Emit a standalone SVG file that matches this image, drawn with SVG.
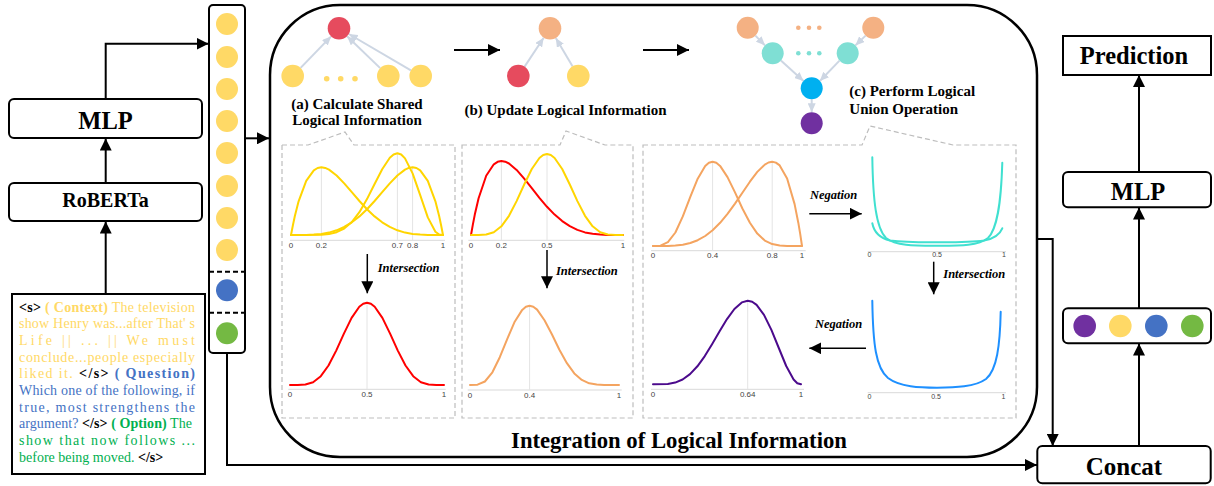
<svg xmlns="http://www.w3.org/2000/svg" width="1214" height="486" viewBox="0 0 1214 486">
<style>
.box{fill:#fff;stroke:#000;stroke-width:2}
.lbl{font-family:"Liberation Serif","Times New Roman",serif;font-weight:bold;fill:#000}
.conn{fill:none;stroke:#000;stroke-width:2}
.thin{fill:none;stroke:#000;stroke-width:1.5}
.g{fill:none;stroke:#CDD6E3;stroke-width:2}
.panel{fill:none;stroke:#BDBDBD;stroke-width:1.2;stroke-dasharray:5 3}
.axis{stroke:#D9D9D9;stroke-width:1}
.grid{stroke:#E4E4E4;stroke-width:1}
.tick{font-family:"Liberation Sans",Arial,sans-serif;font-size:8px;fill:#444;text-anchor:middle}
.tk7{font-size:7px}
.curve{fill:none;stroke-width:2;stroke-linejoin:round;stroke-linecap:round}
.op{font-family:"Liberation Serif","Times New Roman",serif;font-weight:bold;font-style:italic;font-size:12.5px;fill:#000}
.tb{font-family:"Liberation Serif","Times New Roman",serif;font-size:14px}
.bk{fill:#000;font-weight:bold}
.y{fill:#FFD966}
.b{fill:#4472C4}
.gr{fill:#00B050}
.bo{font-weight:bold}
.cy{fill:#FFD966}.cb{fill:#4472C4}.cg{fill:#74B943}.cp{fill:#7030A0}
.nr{fill:#E64B5E}.npe{fill:#F4B183}.nt{fill:#7FDFD4}.nbl{fill:#00B0F0}
</style>
<defs>
<marker id="ah" markerUnits="userSpaceOnUse" markerWidth="12" markerHeight="12" refX="12" refY="6" orient="auto"><path d="M0,0 L12,6 L0,12 z" fill="#000"/></marker>
<marker id="ag" markerUnits="userSpaceOnUse" markerWidth="9" markerHeight="8" refX="9" refY="4" orient="auto"><path d="M0,0 L9,4 L0,8 z" fill="#CDD6E3"/></marker>
</defs>

<!-- connectors -->
<g id="connectors">
  <line class="conn" x1="105.7" y1="294" x2="105.7" y2="221.5" marker-end="url(#ah)"/>
  <line class="conn" x1="105.7" y1="183" x2="105.7" y2="138.5" marker-end="url(#ah)"/>
  <polyline class="conn" points="105.7,99 105.7,43.7 208.5,43.7" marker-end="url(#ah)"/>
  <line class="conn" x1="245" y1="138.3" x2="269" y2="138.3" marker-end="url(#ah)"/>
  <polyline class="conn" points="227,353 227,465 1037,465" marker-end="url(#ah)"/>
  <polyline class="conn" points="1037,239 1052.7,239 1052.7,446" marker-end="url(#ah)"/>
  <line class="conn" x1="1139" y1="446" x2="1139" y2="343.5" marker-end="url(#ah)"/>
  <line class="conn" x1="1139" y1="308.3" x2="1139" y2="207.5" marker-end="url(#ah)"/>
  <line class="conn" x1="1139" y1="172" x2="1139" y2="75" marker-end="url(#ah)"/>
  <!-- stage arrows -->
  <line class="conn" x1="454" y1="50" x2="500" y2="50" marker-end="url(#ah)"/>
  <line class="conn" x1="643" y1="50" x2="689" y2="50" marker-end="url(#ah)"/>
  <!-- graph edges -->
  <line class="g" x1="300.6" y1="67.9" x2="331.1" y2="36.4" marker-end="url(#ag)"/>
  <line class="g" x1="380.2" y1="68.1" x2="347.1" y2="36.2" marker-end="url(#ag)"/>
  <line class="g" x1="410.9" y1="70.3" x2="348.8" y2="34" marker-end="url(#ag)"/>
  <line class="g" x1="524.6" y1="66.6" x2="543.7" y2="37.7" marker-end="url(#ag)"/>
  <line class="g" x1="572.5" y1="66.3" x2="555.8" y2="38" marker-end="url(#ag)"/>
  <line class="g" x1="755.4" y1="35.6" x2="765" y2="45.4" marker-end="url(#ag)"/>
  <line class="g" x1="865.6" y1="35.6" x2="855.4" y2="45.4" marker-end="url(#ag)"/>
  <line class="g" x1="780.9" y1="60.6" x2="803.5" y2="81" marker-end="url(#ag)"/>
  <line class="g" x1="839.5" y1="60.6" x2="819.9" y2="81" marker-end="url(#ag)"/>
  <line class="g" x1="811.7" y1="99.3" x2="811.7" y2="112.3" marker-end="url(#ag)"/>
  <!-- operation arrows -->
  <line class="thin" x1="367.3" y1="254" x2="367.3" y2="293.3" marker-end="url(#ah)"/>
  <line class="thin" x1="547" y1="250" x2="547" y2="288.3" marker-end="url(#ah)"/>
  <line class="thin" x1="809.3" y1="213.7" x2="861.7" y2="213.7" marker-end="url(#ah)"/>
  <line class="thin" x1="933.7" y1="261.7" x2="933.7" y2="294.3" marker-end="url(#ah)"/>
  <line class="thin" x1="866" y1="348.3" x2="809.3" y2="348.3" marker-end="url(#ah)"/>
</g>

<!-- left input text -->
<g id="input-text">
  <rect x="12" y="294" width="193" height="180" fill="#fff" stroke="#000" stroke-width="2"/>
  <text class="tb" x="19" y="311.5" textLength="176" lengthAdjust="spacing"><tspan class="bk">&lt;s&gt;</tspan><tspan class="y bo"> ( Context)</tspan><tspan class="y"> The television</tspan></text>
  <text class="tb y" x="19" y="328.2" textLength="176" lengthAdjust="spacing">show Henry was...after That' s</text>
  <text class="tb y" x="19" y="344.9" textLength="176" lengthAdjust="spacing">Life || ... || We must</text>
  <text class="tb y" x="19" y="361.6" textLength="176" lengthAdjust="spacing">conclude...people especially</text>
  <text class="tb" x="19" y="378.3" textLength="176" lengthAdjust="spacing"><tspan class="y">liked it. </tspan><tspan class="bk">&lt;/s&gt;</tspan><tspan class="b bo"> ( Question)</tspan></text>
  <text class="tb b" x="19" y="395" textLength="176" lengthAdjust="spacing">Which one of the following, if</text>
  <text class="tb b" x="19" y="411.7" textLength="176" lengthAdjust="spacing">true, most strengthens the</text>
  <text class="tb" x="19" y="428.4" textLength="173" lengthAdjust="spacing"><tspan class="b">argument? </tspan><tspan class="bk">&lt;/s&gt;</tspan><tspan class="gr bo"> ( Option)</tspan><tspan class="gr"> The</tspan></text>
  <text class="tb gr" x="19" y="445.1" textLength="176" lengthAdjust="spacing">show that now follows ...</text>
  <text class="tb" x="19" y="461.8"><tspan class="gr">before being moved. </tspan><tspan class="bk">&lt;/s&gt;</tspan></text>
</g>

<g id="roberta">
  <rect class="box" x="9" y="183" width="193" height="38" rx="5"/>
  <text class="lbl" x="105.5" y="207" font-size="20" text-anchor="middle">RoBERTa</text>
</g>
<g id="mlp-left">
  <rect class="box" x="9" y="99" width="193" height="39" rx="5"/>
  <text class="lbl" x="105.5" y="129" font-size="24.5" text-anchor="middle">MLP</text>
</g>

<g id="vector-column">
  <rect class="box" x="209" y="5" width="36" height="348" rx="4"/>
  <circle class="cy" cx="227" cy="24" r="11"/>
  <circle class="cy" cx="227" cy="57" r="11"/>
  <circle class="cy" cx="227" cy="89" r="11"/>
  <circle class="cy" cx="227" cy="121" r="11"/>
  <circle class="cy" cx="227" cy="153" r="11"/>
  <circle class="cy" cx="227" cy="186" r="11"/>
  <circle class="cy" cx="227" cy="218" r="11"/>
  <circle class="cy" cx="227" cy="250" r="11"/>
  <line x1="209" y1="271.7" x2="245" y2="271.7" stroke="#000" stroke-width="2" stroke-dasharray="5 3"/>
  <circle class="cb" cx="227" cy="290.3" r="11"/>
  <line x1="209" y1="312.7" x2="245" y2="312.7" stroke="#000" stroke-width="2" stroke-dasharray="5 3"/>
  <circle class="cg" cx="227" cy="333.3" r="11"/>
</g>

<g id="integration">
  <rect x="270" y="5" width="767" height="452" rx="70" fill="none" stroke="#000" stroke-width="2.5"/>
  <text class="lbl" x="679" y="447.5" font-size="22.7" text-anchor="middle">Integration of Logical Information</text>
</g>

<g id="stage-a">
  <circle class="nr" cx="339" cy="28.3" r="11.3"/>
  <circle class="cy" cx="292.7" cy="76" r="11.3"/>
  <circle class="cy" cx="388.3" cy="76" r="11.3"/>
  <circle class="cy" cx="420.7" cy="76" r="11.3"/>
  <circle class="cy" cx="326.7" cy="78.7" r="2.8"/>
  <circle class="cy" cx="340.7" cy="78.7" r="2.8"/>
  <circle class="cy" cx="355" cy="78.7" r="2.8"/>
  <text class="lbl" x="357" y="109" font-size="15" text-anchor="middle">(a) Calculate Shared</text>
  <text class="lbl" x="357" y="125" font-size="15" text-anchor="middle">Logical Information</text>
</g>
<g id="stage-b">
  <circle class="npe" cx="550" cy="28.3" r="11.3"/>
  <circle class="nr" cx="518.3" cy="76" r="11.3"/>
  <circle class="cy" cx="578.3" cy="76" r="11.3"/>
  <text class="lbl" x="565.5" y="115" font-size="15" text-anchor="middle">(b) Update Logical Information</text>
</g>
<g id="stage-c">
  <circle class="npe" cx="747.7" cy="27.7" r="11"/>
  <circle class="npe" cx="873.3" cy="27.7" r="11"/>
  <circle class="npe" cx="798.3" cy="27.7" r="2.3"/>
  <circle class="npe" cx="809" cy="27.7" r="2.3"/>
  <circle class="npe" cx="819.3" cy="27.7" r="2.3"/>
  <circle class="nt" cx="772.7" cy="53.3" r="11"/>
  <circle class="nt" cx="847.7" cy="53.3" r="11"/>
  <circle class="nt" cx="798.3" cy="53.3" r="2.3"/>
  <circle class="nt" cx="809" cy="53.3" r="2.3"/>
  <circle class="nt" cx="819.3" cy="53.3" r="2.3"/>
  <circle class="nbl" cx="811.7" cy="88.3" r="11"/>
  <circle class="cp" cx="811.7" cy="123.3" r="11"/>
  <text class="lbl" x="849.3" y="96" font-size="15">(c) Perform Logical</text>
  <text class="lbl" x="849.3" y="114.3" font-size="15">Union Operation</text>
</g>

<!-- panel 1 -->
<g id="panel-a">
  <path class="panel" d="M282,145 L308,145 L345,132 L354,145 L455,145 L455,418 L282,418 Z"/>
  <line class="axis" x1="290" y1="240.3" x2="445" y2="240.3"/>
  <line class="grid" x1="321.4" y1="167.3" x2="321.4" y2="240"/>
  <line class="grid" x1="397.4" y1="153.3" x2="397.4" y2="240"/>
  <line class="grid" x1="412.6" y1="167.3" x2="412.6" y2="240"/>
  <path class="curve" stroke="#FFD500" d="M291,235 L292.9,225.2 L294.8,216.3 L298.6,201.3 L306.2,180.8 L313.8,170.3 L317.6,168 L321.4,167.3 L325.2,167.9 L329,169.6 L336.6,175.5 L344.2,183.4 L351.8,192.2 L359.4,201 L367,209.2 L374.6,216.4 L382.2,222.3 L389.8,226.9 L397.4,230.3 L405,232.6 L412.6,233.9 L420.2,234.6 L427.8,234.9 L443,235"/>
  <path class="curve" stroke="#FFD500" d="M291,235 L321.4,234.8 L329,234.1 L336.6,232.2 L344.2,228.5 L351.8,222 L359.4,212.2 L367,199.1 L374.6,184 L382.2,169.2 L389.8,157.8 L393.6,154.5 L397.4,153.3 L401.2,154.5 L405,158.4 L412.6,173.4 L420.2,195.2 L427.8,217.4 L435.4,231.8 L439.2,234.5 L443,235"/>
  <path class="curve" stroke="#FFD500" d="M291,235 L306.2,234.9 L313.8,234.6 L321.4,233.9 L329,232.6 L336.6,230.3 L344.2,226.9 L351.8,222.3 L359.4,216.4 L367,209.2 L374.6,201 L382.2,192.2 L389.8,183.4 L397.4,175.5 L405,169.6 L408.8,167.9 L412.6,167.3 L416.4,168 L420.2,170.3 L427.8,180.8 L435.4,201.3 L439.2,216.3 L441.1,225.2 L443,235"/>
  <text class="tick" x="291" y="247.5">0</text>
  <text class="tick" x="321.4" y="247.5">0.2</text>
  <text class="tick" x="397.4" y="247.5">0.7</text>
  <text class="tick" x="412.6" y="247.5">0.8</text>
  <text class="tick" x="443" y="247.5">1</text>
  <text class="op" x="377.7" y="271.7">Intersection</text>
  <line class="axis" x1="288.3" y1="389.3" x2="445.7" y2="389.3"/>
  <line class="grid" x1="367" y1="302.7" x2="367" y2="389"/>
  <path class="curve" stroke="#FF0000" d="M290,385 L297.7,385 L305.4,384.5 L313.1,382.2 L320.8,376.2 L328.5,365.5 L336.2,350.6 L343.9,333.6 L351.6,317.9 L359.3,306.7 L363.2,303.7 L367,302.7 L370.9,303.7 L374.7,306.7 L382.4,317.9 L390.1,333.6 L397.8,350.6 L405.5,365.5 L413.2,376.2 L420.9,382.2 L428.6,384.5 L436.3,385 L444,385"/>
  <text class="tick" x="290" y="397">0</text>
  <text class="tick" x="367" y="397">0.5</text>
  <text class="tick" x="444" y="397">1</text>
</g>

<!-- panel 2 -->
<g id="panel-b">
  <path class="panel" d="M462,145 L560,145 L566,131 L605,145 L633,145 L633,418 L462,418 Z"/>
  <line class="axis" x1="468.3" y1="240.3" x2="624.3" y2="240.3"/>
  <line class="grid" x1="501.4" y1="161" x2="501.4" y2="240"/>
  <line class="grid" x1="547" y1="154" x2="547" y2="240"/>
  <path class="curve" stroke="#FF0000" d="M471,235 L472.9,224.3 L474.8,214.6 L478.6,198.2 L486.2,175.7 L493.8,164.3 L497.6,161.8 L501.4,161 L505.2,161.7 L509,163.5 L516.6,169.9 L524.2,178.6 L531.8,188.2 L539.4,197.8 L547,206.8 L554.6,214.6 L562.2,221.1 L569.8,226.2 L577.4,229.9 L585,232.4 L592.6,233.8 L600.2,234.6 L607.8,234.9 L623,235"/>
  <path class="curve" stroke="#FFD500" d="M471,235 L478.6,235 L486.2,234.5 L493.8,232.2 L501.4,226.3 L509,215.8 L516.6,201.1 L524.2,184.5 L531.8,169 L539.4,158 L543.2,155 L547,154 L550.8,155 L554.6,158 L562.2,169 L569.8,184.5 L577.4,201.1 L585,215.8 L592.6,226.3 L600.2,232.2 L607.8,234.5 L615.4,235 L623,235"/>
  <text class="tick" x="471" y="247.5">0</text>
  <text class="tick" x="501.4" y="247.5">0.2</text>
  <text class="tick" x="547" y="247.5">0.5</text>
  <text class="tick" x="623" y="247.5">1</text>
  <text class="op" x="556" y="275">Intersection</text>
  <line class="axis" x1="467.7" y1="390" x2="621.7" y2="390"/>
  <line class="grid" x1="529.6" y1="305.7" x2="529.6" y2="390"/>
  <path class="curve" stroke="#F4A460" d="M470,385 L477.5,384.7 L484.9,381.5 L492.4,372.3 L499.8,357.2 L507.3,338.8 L514.7,321.7 L522.2,309.9 L525.9,306.7 L529.6,305.7 L533.3,306.7 L537.1,309.6 L544.5,320.2 L552,334.5 L559.4,349.8 L566.9,363.2 L574.3,373.4 L581.8,379.9 L589.2,383.3 L596.7,384.6 L604.1,385 L619,385"/>
  <text class="tick" x="470" y="397.5">0</text>
  <text class="tick" x="529.6" y="397.5">0.4</text>
  <text class="tick" x="619" y="397.5">1</text>
</g>

<!-- panel 3 -->
<g id="panel-c">
  <path class="panel" d="M643,145 L862,145 L870,126 L953,145 L1016,145 L1016,418 L643,418 Z"/>
  <line class="axis" x1="651" y1="250.7" x2="805.7" y2="250.7"/>
  <line class="grid" x1="712.6" y1="161.7" x2="712.6" y2="250.5"/>
  <line class="grid" x1="772.2" y1="161.7" x2="772.2" y2="250.5"/>
  <path class="curve" stroke="#F4A460" d="M653,246 L660.5,245.7 L667.9,242.2 L675.4,232.5 L682.8,216.4 L690.3,196.9 L697.7,178.7 L705.2,166.1 L708.9,162.8 L712.6,161.7 L716.3,162.8 L720.1,165.9 L727.5,177.1 L735,192.4 L742.4,208.5 L749.9,222.8 L757.3,233.6 L764.8,240.6 L772.2,244.1 L779.7,245.6 L787.1,246 L802,246"/>
  <path class="curve" stroke="#F4A460" d="M653,246 L667.9,245.9 L675.4,245.6 L682.8,244.7 L690.3,243 L697.7,240.2 L705.2,236 L712.6,230.2 L720.1,222.8 L727.5,213.8 L735,203.6 L742.4,192.7 L749.9,181.7 L757.3,171.9 L764.8,164.6 L768.5,162.5 L772.2,161.7 L775.9,162.6 L779.7,165.4 L787.1,178.5 L794.6,204.1 L798.3,222.7 L800.2,233.8 L802,246"/>
  <text class="tick" x="653" y="257.5">0</text>
  <text class="tick" x="712.6" y="257.5">0.4</text>
  <text class="tick" x="772.2" y="257.5">0.8</text>
  <text class="tick" x="802" y="257.5">1</text>
  <text class="op" x="810" y="199">Negation</text>
  <line class="axis" x1="867.7" y1="251.7" x2="1006" y2="251.7"/>
  <path class="curve" stroke="#40E0D0" d="M872.3,157.3 C873,200 876,228 886,238 C896,246 915,245.7 937,245.7 C960,245.7 978,246 988,238 C997,229 1001,205 1002.3,162.7"/>
  <path class="curve" stroke="#40E0D0" d="M872.3,223.3 C874,232 879,238 890,240.5 C905,242.5 920,242.3 937,242.3 C955,242.3 970,242.5 984,240.5 C995,238.5 1000,234 1002.3,228.3"/>
  <text class="tick tk7" x="869.5" y="257">0</text>
  <text class="tick tk7" x="937" y="257">0.5</text>
  <text class="tick tk7" x="1004" y="257">1</text>
  <text class="op" x="943.3" y="278.3">Intersection</text>
  <line class="axis" x1="867.7" y1="392.7" x2="1006" y2="392.7"/>
  <path class="curve" stroke="#1E90FF" d="M872.3,300.7 C873,345 876,368 888,378 C900,387 920,387.7 937,387.7 C955,387.7 975,387 986,379 C997,370 1000,345 1000.7,311.7"/>
  <text class="tick tk7" x="869.5" y="398.5">0</text>
  <text class="tick tk7" x="936" y="398.5">0.5</text>
  <text class="tick tk7" x="1003.5" y="398.5">1</text>
  <text class="op" x="815" y="328.3">Negation</text>
  <line class="axis" x1="651" y1="389.3" x2="804" y2="389.3"/>
  <line class="grid" x1="747.7" y1="300.7" x2="747.7" y2="389"/>
  <path class="curve" stroke="#4B0A8C" d="M653,384.3 L667.8,383.9 L675.2,382.6 L682.6,379.5 L690,374.1 L697.4,366.3 L704.8,356.1 L712.2,344 L719.6,331.3 L727,319.1 L734.4,309 L741.8,302.4 L747.7,300.7 L752.2,301.7 L756.6,304.9 L764,314.9 L771.4,329.9 L778.8,348 L786.2,366 L793.6,379.5 L797.3,383.2 L801,384.3"/>
  <text class="tick" x="653" y="396.5">0</text>
  <text class="tick" x="747.7" y="396.5">0.64</text>
  <text class="tick" x="801" y="396.5">1</text>
</g>

<!-- right column -->
<g id="prediction">
  <rect class="box" x="1063" y="36" width="148" height="39"/>
  <text class="lbl" x="1134" y="64" font-size="24.5" text-anchor="middle">Prediction</text>
</g>
<g id="mlp-right">
  <rect class="box" x="1063" y="172" width="148" height="35.3" rx="5"/>
  <text class="lbl" x="1138" y="200" font-size="24.5" text-anchor="middle">MLP</text>
</g>
<g id="concat-vector">
  <rect class="box" x="1063" y="308.3" width="148" height="35" rx="5"/>
  <circle class="cp" cx="1084.7" cy="326" r="11.3"/>
  <circle class="cy" cx="1120.3" cy="326" r="11.3"/>
  <circle class="cb" cx="1156.3" cy="326" r="11.3"/>
  <circle class="cg" cx="1192.3" cy="326" r="11.3"/>
</g>
<g id="concat">
  <rect class="box" x="1037.3" y="446" width="173.4" height="37.3" rx="5"/>
  <text class="lbl" x="1124" y="475" font-size="25" text-anchor="middle">Concat</text>
</g>
</svg>
